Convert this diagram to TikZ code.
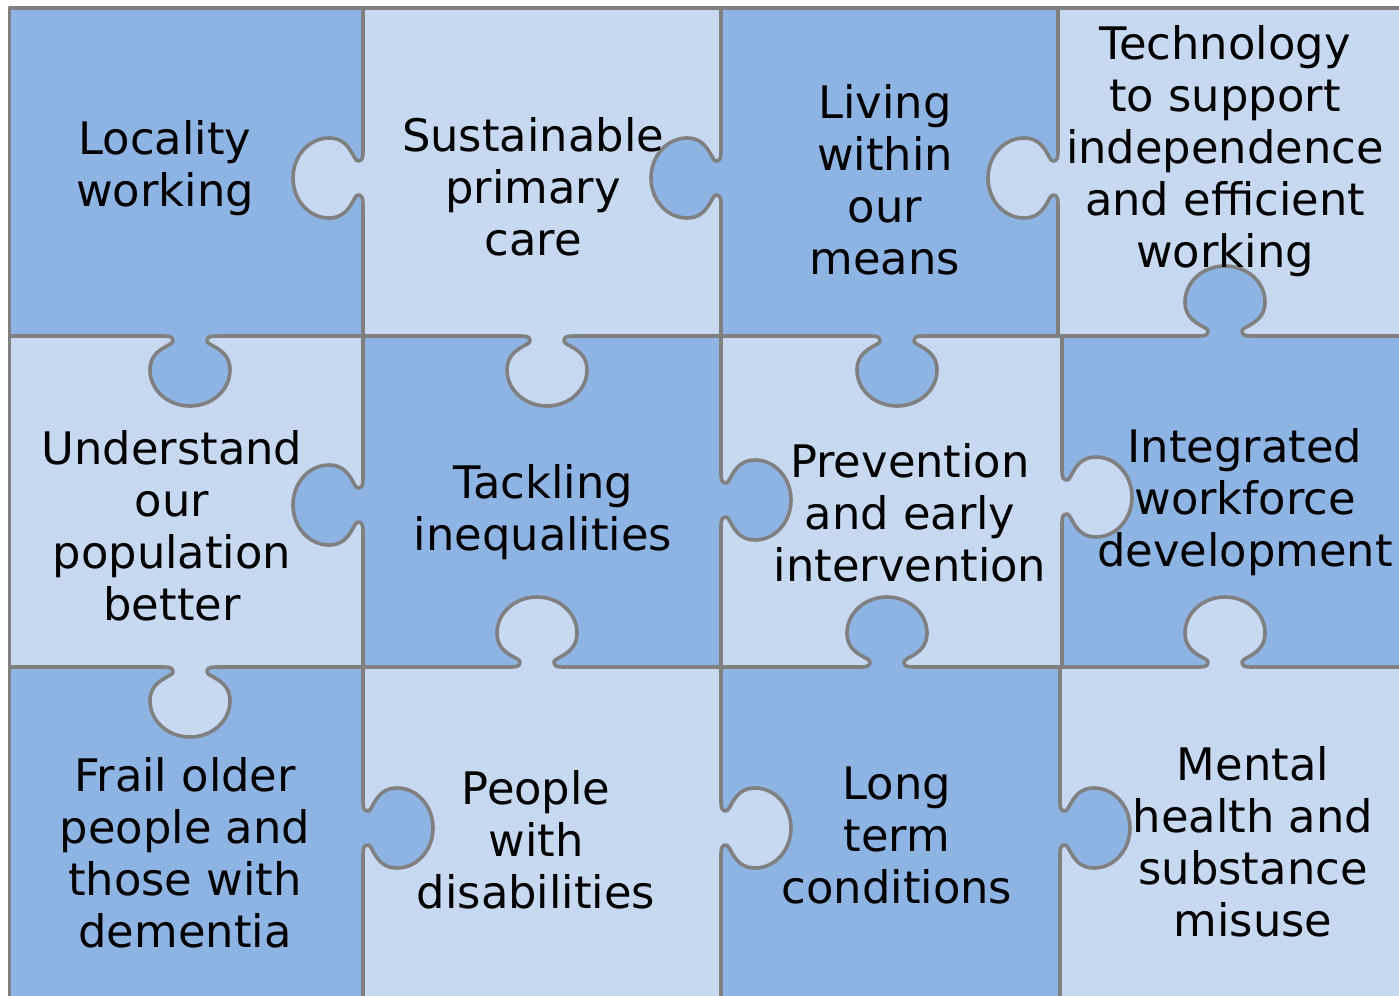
\documentclass[tikz,border=0pt]{standalone}
\usepackage{fontspec}
\setmainfont{DejaVu Sans}
\usetikzlibrary{positioning}
\definecolor{darkblue}{RGB}{142,180,227}
\definecolor{lightblue}{RGB}{198,217,241}
\definecolor{edgegray}{RGB}{128,128,128}
\tikzstyle{darkpiece} = [fill=darkblue]
\tikzstyle{lightpiece} = [fill=lightblue]
\tikzstyle{seam} = [draw=edgegray, line width=1.8pt, line join=round]
\tikzstyle{piecetext} = [text=black, align=center, inner sep=0pt, font=\fontsize{22.4}{26}\selectfont]
\newcommand{\knobpath}{(-30,0) -- (-26,0) .. controls (-20,0) and (-17,1) .. (-17,5) .. controls (-17,10) and (-40,12) .. (-40,34) .. controls (-40,54) and (-22,70) .. (0,70) .. controls (22,70) and (40,54) .. (40,34) .. controls (40,12) and (17,10) .. (17,5) .. controls (17,1) and (20,0) .. (26,0) -- (30,0)}
\newcommand{\puzzleknob}[4]{%
  \begin{scope}[shift={(#1,#2)}, rotate=#3]
    \fill[#4] \knobpath -- (30,-2) -- (-30,-2) -- cycle;
    \draw[seam] \knobpath;
  \end{scope}}

\begin{document}
\begin{tikzpicture}[x=0.5pt, y=-0.5pt]
\useasboundingbox (0,0) rectangle (1399,996);
\clip (0,0) rectangle (1399,996);
\fill[white] (0,0) rectangle (1399,996);

% pieces =============================

% row 1
\fill[darkpiece] (9.5,8) rectangle (363,336);
\fill[lightpiece] (363,8) rectangle (721,336);
\fill[darkpiece] (721,8) rectangle (1058,336);
\fill[lightpiece] (1058,8) rectangle (1410,336);
% row 2
\fill[lightpiece] (9.5,336) rectangle (363,667);
\fill[darkpiece] (363,336) rectangle (721,667);
\fill[lightpiece] (721,336) rectangle (1062,667);
\fill[darkpiece] (1062,336) rectangle (1410,667);
% row 3
\fill[darkpiece] (9.5,667) rectangle (363,1010);
\fill[lightpiece] (363,667) rectangle (721,1010);
\fill[darkpiece] (721,667) rectangle (1060,1010);
\fill[lightpiece] (1060,667) rectangle (1410,1010);

% seams
\draw[seam] (9.5,1010) -- (9.5,8) -- (1410,8);
\draw[seam] (363,8) -- (363,1010);
\draw[seam] (721,8) -- (721,1010);
\draw[seam] (1058,8) -- (1058,336);
\draw[seam] (1062,336) -- (1062,667);
\draw[seam] (1060,667) -- (1060,1010);
\draw[seam] (9.5,336) -- (1410,336);
\draw[seam] (9.5,667) -- (1410,667);

% knobs: x, y, direction, colour
\puzzleknob{363}{178}{-90}{lightpiece}
\puzzleknob{721}{178}{-90}{darkpiece}
\puzzleknob{1058}{178}{-90}{lightpiece}

\puzzleknob{190}{336}{0}{darkpiece}
\puzzleknob{547}{336}{0}{lightpiece}
\puzzleknob{897}{336}{0}{darkpiece}
\puzzleknob{1225}{336}{180}{darkpiece}

\puzzleknob{363}{505}{-90}{darkpiece}
\puzzleknob{721}{500}{90}{darkpiece}
\puzzleknob{1062}{497}{90}{lightpiece}

\puzzleknob{190}{667}{0}{lightpiece}
\puzzleknob{537}{667}{180}{lightpiece}
\puzzleknob{887}{667}{180}{darkpiece}
\puzzleknob{1225}{667}{180}{lightpiece}

\puzzleknob{363}{828}{90}{darkpiece}
\puzzleknob{721}{828}{90}{lightpiece}
\puzzleknob{1060}{828}{90}{darkpiece}

% labels =============================
\node[piecetext] (locality) at (165,168) {Locality\\working};
\node[piecetext] (primary) at (533,187) {Sustainable\\primary\\care};
\node[piecetext] (means) at (885,180) {Living\\within\\our\\means};
\node[piecetext] (technology) at (1225,151) {Technology\\to support\\independence\\and efficient\\working};

\node[piecetext] (population) at (172,526) {Understand\\our\\population\\better};
\node[piecetext] (inequalities) at (543,512) {Tackling\\inequalities};
\node[piecetext] (prevention) at (910,513) {Prevention\\and early\\intervention};
\node[piecetext] (workforce) at (1245,502) {Integrated\\workforce\\development};

\node[piecetext] (frail) at (185,853) {Frail older\\people and\\those with\\dementia};
\node[piecetext] (disabilities) at (536,840) {People\\with\\disabilities};
\node[piecetext] (longterm) at (897,835) {Long\\term\\conditions};
\node[piecetext] (mental) at (1253,842) {Mental\\health and\\substance\\misuse};

\end{tikzpicture}
\end{document}
